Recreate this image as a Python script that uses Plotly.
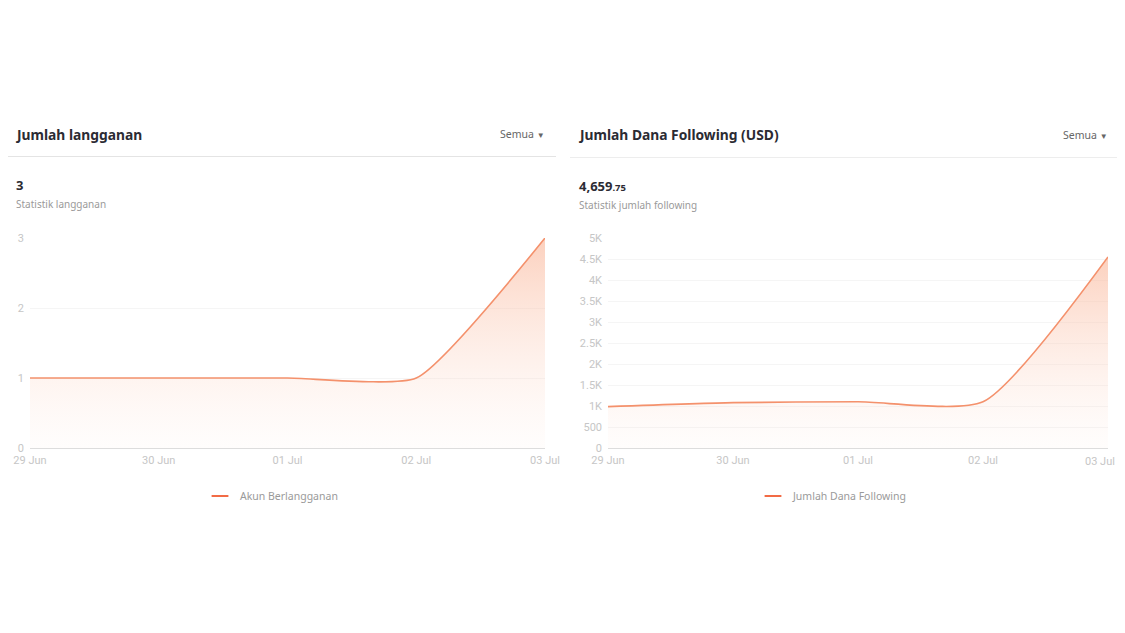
import plotly.graph_objects as go

# ---- data ----
dates = ["2024-06-29", "2024-06-30", "2024-07-01", "2024-07-02", "2024-07-03"]
date_labels = ["29 Jun", "30 Jun", "01 Jul", "02 Jul", "03 Jul"]
subs_values = [1, 1, 1, 1, 3]
funds_values = [985, 1080, 1100, 1100, 4550]
subs_ticks = [0, 1, 2, 3]
subs_ticktext = ["0", "1", "2", "3"]
funds_ticks = [0, 500, 1000, 1500, 2000, 2500, 3000, 3500, 4000, 4500, 5000]
funds_ticktext = ["0", "500", "1K", "1.5K", "2K", "2.5K", "3K", "3.5K", "4K", "4.5K", "5K"]
subs_title = "Jumlah langganan"
funds_title = "Jumlah Dana Following (USD)"
subs_total = "3"
funds_total_int = "4,659"
funds_total_dec = ".75"
subs_sub = "Statistik langganan"
funds_sub = "Statistik jumlah following"
subs_series = "Akun Berlangganan"
funds_series = "Jumlah Dana Following"
filter_label = "Semua"

OFF = 8  # page body margin offset
W, H = 1125 - OFF, 580
LINE = "#f4916c"
LEG = "#f26b45"
FONT = "Noto Sans, Open Sans, sans-serif"
TICKFONT = dict(family="Roboto, sans-serif", size=11, color="#c6c6c6")

def px(xp):
    return (xp - OFF) / W

def py(yp):
    return 1 - (yp - OFF) / H

fig = go.Figure()

grad = [[0, "rgba(253,230,220,0.08)"], [1, "rgba(250,180,150,0.62)"]]
fig.add_trace(go.Scatter(
    x=dates, y=subs_values, mode="lines", xaxis="x", yaxis="y",
    line=dict(color=LINE, width=1.6, shape="spline", smoothing=0.5),
    fill="tozeroy",
    fillgradient=dict(type="vertical", start=0, stop=max(subs_values), colorscale=grad),
    showlegend=False, hoverinfo="skip"))
fig.add_trace(go.Scatter(
    x=dates, y=funds_values, mode="lines", xaxis="x2", yaxis="y2",
    line=dict(color=LINE, width=1.6, shape="spline", smoothing=0.6),
    fill="tozeroy",
    fillgradient=dict(type="vertical", start=0, stop=max(funds_values), colorscale=grad),
    showlegend=False, hoverinfo="skip"))

# legend entries (short dash markers)
legmarker = dict(symbol="line-ew-open", size=7, color=LEG, line=dict(color=LEG, width=2))
fig.add_trace(go.Scatter(
    x=[None], y=[None], mode="markers", name=subs_series, legend="legend",
    marker=legmarker, xaxis="x", yaxis="y"))
fig.add_trace(go.Scatter(
    x=[None], y=[None], mode="markers", name=funds_series, legend="legend2",
    marker=legmarker, xaxis="x2", yaxis="y2"))

ydom = [py(448), py(238)]
common_x = dict(
    type="date", tickfont=TICKFONT,
    showgrid=False, showline=True, linecolor="#dddddd", linewidth=1.2,
    ticks="", zeroline=False, range=[dates[0], dates[-1]], fixedrange=True,
    ticklabelstandoff=2)
common_y = dict(
    tickfont=TICKFONT, showgrid=True, gridcolor="#f5f5f5", gridwidth=1,
    zeroline=False, showline=False, ticks="", fixedrange=True,
    ticklabelstandoff=5)

legfont = dict(size=10.5, color="#9a9a9a", family=FONT)
fig.update_layout(
    width=W, height=H, margin=dict(l=0, r=0, t=0, b=0, autoexpand=False),
    paper_bgcolor="white", plot_bgcolor="white",
    font=dict(family=FONT),
    xaxis=dict(domain=[px(30), px(545)], anchor="y", tickvals=dates,
               ticktext=date_labels, **common_x),
    yaxis=dict(domain=ydom, anchor="x", range=[0, 3], tickvals=subs_ticks,
               ticktext=subs_ticktext, **common_y),
    # last label of the right chart is placed as an end-aligned label below
    xaxis2=dict(domain=[px(608), px(1108)], anchor="y2", tickvals=dates[:-1],
                ticktext=date_labels[:-1], **common_x),
    yaxis2=dict(domain=ydom, anchor="x2", range=[0, 5000], tickvals=funds_ticks,
                ticktext=funds_ticktext, **common_y),
    legend=dict(x=px(200), y=py(496), xanchor="left", yanchor="middle",
                orientation="h", font=legfont,
                itemsizing="constant", bgcolor="rgba(0,0,0,0)"),
    legend2=dict(x=px(753), y=py(496), xanchor="left", yanchor="middle",
                 orientation="h", font=legfont,
                 itemsizing="constant", bgcolor="rgba(0,0,0,0)"),
)

fig.add_annotation(xref="x2", yref="paper", x=dates[-1], y=py(461),
                   text=date_labels[-1], showarrow=False, xanchor="right",
                   yanchor="middle", xshift=9, font=TICKFONT)

# separators
fig.add_shape(type="line", xref="paper", yref="paper", x0=px(0), x1=px(556),
              y0=py(156.5), y1=py(156.5), line=dict(color="#e4e4e4", width=1))
fig.add_shape(type="line", xref="paper", yref="paper", x0=px(570), x1=px(1125),
              y0=py(157.5), y1=py(157.5), line=dict(color="#ededed", width=1))

def ann(x, y, text, size, color, bold=False, xanchor="left"):
    fig.add_annotation(xref="paper", yref="paper", x=px(x), y=py(y),
                       text=("<b>%s</b>" % text) if bold else text,
                       showarrow=False, xanchor=xanchor, yanchor="middle",
                       font=dict(size=size, color=color, family=FONT))

ann(13, 134, subs_title, 13.8, "#2b2b33", bold=True)
ann(576, 134, funds_title, 13.8, "#2b2b33", bold=True)
ann(547, 134, filter_label + " <span style='font-size:8px'>▼</span>", 10.5, "#666666", xanchor="right")
ann(1110, 135, filter_label + " <span style='font-size:8px'>▼</span>", 10.5, "#666666", xanchor="right")
ann(14, 185, subs_total, 13, "#2b2b33", bold=True)
ann(577, 186, funds_total_int + "<span style='font-size:9.5px'>" + funds_total_dec + "</span>", 13, "#2b2b33", bold=True)
ann(14, 204, subs_sub, 10, "#9a9a9a")
ann(577, 205, funds_sub, 10, "#9a9a9a")

fig.write_html("out.html")
